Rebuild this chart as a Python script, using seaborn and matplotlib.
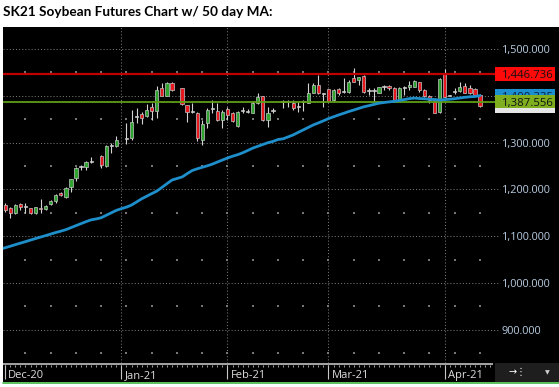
import numpy as np
import pandas as pd
import matplotlib
matplotlib.use("Agg")
import matplotlib.pyplot as plt
import seaborn as sns
from matplotlib.patches import Rectangle
from matplotlib.lines import Line2D

# ---------------- data ----------------
title = "SK21 Soybean Futures Chart w/ 50 day MA:"
start_date = "2020-12-01"
end_date = "2021-04-12"
nan = float("nan")

opens = [1166.6, 1159.5, 1148.8, 1168.1, 1163.5, 1159.5, 1148.8, 1161.0, 1157.4, 1168.1,
         1175.9, 1192.3, 1184.5, 1204.4, 1225.1, 1248.6, 1247.1, 1259.0, nan, 1272.0,
         1250.7, 1294.5, 1293.4, nan, 1308.5, 1309.1, 1356.0, 1361.1, 1356.8, 1375.4,
         1367.5, 1417.4, 1400.3, 1428.1, nan, 1415.9, 1380.3, 1367.0, 1364.0, 1305.5,
         1342.6, 1372.0, 1368.2, 1348.3, 1371.1, 1364.0, 1336.2, 1368.0, 1366.5, 1364.0,
         1385.3, 1399.6, 1348.3, 1368.0, nan, 1387.0, 1388.0, 1383.9, 1378.5, 1387.0,
         1385.3, 1406.7, 1423.1, 1406.0, 1413.8, 1391.0, 1413.8, 1408.5, 1408.8, 1438.7,
         1433.8, 1442.3, 1411.5, 1412.0, 1406.7, 1419.0, 1421.7, 1416.0, 1391.0, 1418.5,
         1418.0, 1419.5, 1428.8, 1412.4, 1399.6, 1392.5, 1364.7, 1445.9, 1400.0, 1408.5,
         1411.0, 1421.0, 1416.0, 1413.8, 1401.7]
highs = [1170.2, 1163.0, 1169.0, 1171.7, 1170.0, 1161.0, 1163.0, 1179.5, 1167.0, 1177.0,
         1190.0, 1195.0, 1206.0, 1223.0, 1247.0, 1252.0, 1261.0, 1268.5, nan, 1273.5,
         1295.0, 1298.4, 1314.0, nan, 1342.6, 1369.6, 1373.2, 1366.0, 1382.5, 1383.9,
         1420.9, 1428.1, 1430.0, 1430.0, nan, 1417.0, 1381.0, 1383.9, 1365.0, 1348.3,
         1373.0, 1391.0, 1383.9, 1369.6, 1376.8, 1366.0, 1366.5, 1375.4, 1371.0, 1389.6,
         1405.3, 1400.0, 1375.4, 1373.2, nan, 1391.0, 1391.0, 1391.0, 1387.5, 1391.0,
         1426.6, 1426.6, 1444.4, 1406.5, 1414.0, 1413.8, 1416.0, 1437.3, 1433.8, 1458.7,
         1440.9, 1444.4, 1416.0, 1416.0, 1419.5, 1423.1, 1423.0, 1418.0, 1418.0, 1421.0,
         1432.3, 1433.8, 1430.0, 1413.8, 1401.7, 1394.6, 1437.3, 1456.5, 1401.0, 1416.0,
         1430.2, 1428.0, 1423.0, 1416.0, 1403.8]
lows = [1152.4, 1138.0, 1147.0, 1156.0, 1149.0, 1148.0, 1148.0, 1148.8, 1155.0, 1166.0,
        1172.0, 1186.0, 1182.0, 1195.0, 1218.0, 1241.0, 1241.0, 1255.7, nan, 1245.0,
        1248.0, 1277.0, 1291.0, nan, 1296.3, 1306.0, 1341.2, 1339.0, 1354.0, 1348.3,
        1351.8, 1399.0, 1399.0, 1410.0, nan, 1380.0, 1344.7, 1362.5, 1303.4, 1294.9,
        1330.5, 1362.5, 1346.9, 1332.0, 1348.3, 1344.7, 1334.0, 1362.5, 1362.5, 1362.5,
        1382.5, 1346.9, 1334.0, 1362.5, nan, 1373.2, 1376.8, 1369.6, 1366.0, 1368.2,
        1383.9, 1405.3, 1403.8, 1375.4, 1387.5, 1388.9, 1401.7, 1405.3, 1405.3, 1430.0,
        1423.1, 1405.3, 1401.7, 1389.6, 1405.3, 1412.4, 1412.4, 1387.5, 1389.6, 1401.7,
        1412.4, 1418.0, 1408.8, 1398.0, 1383.9, 1362.5, 1362.5, 1397.0, 1399.0, 1403.8,
        1408.8, 1405.3, 1403.8, 1399.6, 1376.8]
closes = [1156.0, 1148.8, 1166.6, 1163.1, 1163.0, 1150.2, 1161.7, 1157.4, 1164.5, 1175.2,
          1188.0, 1188.0, 1203.7, 1221.5, 1245.0, 1249.0, 1257.8, 1259.5, nan, 1252.1,
          1293.4, 1295.0, 1305.5, nan, 1309.0, 1344.7, 1357.0, 1351.8, 1369.6, 1367.5,
          1412.4, 1400.3, 1426.6, 1412.4, nan, 1382.5, 1366.1, 1366.0, 1309.1, 1339.7,
          1369.6, 1373.5, 1348.3, 1366.1, 1359.0, 1346.9, 1366.1, 1368.5, 1366.0, 1385.3,
          1398.1, 1348.3, 1364.0, 1368.5, nan, 1388.0, 1387.0, 1373.2, 1378.0, 1388.0,
          1406.7, 1423.1, 1405.3, 1405.0, 1388.9, 1412.4, 1405.3, 1409.0, 1430.2, 1430.2,
          1439.5, 1407.4, 1411.0, 1412.5, 1418.1, 1419.5, 1416.0, 1389.6, 1416.0, 1418.0,
          1423.0, 1431.6, 1412.4, 1399.6, 1391.0, 1364.0, 1435.2, 1398.1, 1400.5, 1409.0,
          1419.5, 1406.7, 1405.3, 1401.7, 1378.2]

ma_start = "2020-11-30"
ma_values = [1072.2, 1075.4, 1078.6, 1082.0, 1085.2, 1088.4, 1091.8, 1095.0, 1098.2, 1101.4,
             1104.6, 1107.9, 1110.8, 1114.0, 1118.3, 1122.6, 1126.9, 1131.1, 1135.0, 1136.9,
             1139.5, 1144.8, 1150.0, 1155.3, 1158.9, 1162.1, 1166.6, 1173.2, 1179.9, 1185.4,
             1191.0, 1196.3, 1204.2, 1212.1, 1220.0, 1223.3, 1226.5, 1233.5, 1240.3, 1244.0,
             1247.2, 1250.4, 1254.0, 1258.5, 1262.8, 1267.1, 1270.9, 1274.1, 1278.2, 1283.1,
             1288.2, 1292.1, 1295.9, 1299.8, 1302.5, 1306.6, 1308.1, 1312.2, 1316.4, 1321.8,
             1327.1, 1332.5, 1337.8, 1342.1, 1346.6, 1351.3, 1355.1, 1359.0, 1362.6, 1366.4,
             1369.6, 1373.1, 1376.5, 1379.0, 1381.6, 1384.2, 1385.7, 1387.0, 1388.2, 1390.0,
             1391.9, 1394.0, 1395.1, 1394.2, 1393.6, 1392.7, 1391.9, 1391.0, 1391.9, 1392.7,
             1393.8, 1395.3, 1396.8, 1397.9, 1398.5, 1400.3]

price_ticks = [900, 1000, 1100, 1200, 1300, 1400, 1500]
minor_levels = [850, 950, 1050, 1150, 1250, 1350, 1450]
month_starts = ["2020-12-01", "2021-01-01", "2021-02-01", "2021-03-01", "2021-04-01"]
month_labels = ["Dec-20", "Jan-21", "Feb-21", "Mar-21", "Apr-21"]
resistance = 1446.736
support = 1387.556
ma_last = 1400.335
last_price = 1378.2

# ---------------- frames ----------------
d0 = np.datetime64(start_date)
dates = pd.bdate_range(start_date, end_date)
df = pd.DataFrame({"date": dates, "open": opens, "high": highs, "low": lows, "close": closes})
df["x"] = np.busday_count(d0, dates.values.astype("datetime64[D]"))
ma_dates = pd.bdate_range(ma_start, end_date)
ma_df = pd.DataFrame({"x": np.busday_count(d0, ma_dates.values.astype("datetime64[D]")),
                      "ma": ma_values})
month_x = np.busday_count(d0, np.array(month_starts, dtype="datetime64[D]"))
monday_x = df.loc[df["date"].dt.dayofweek == 0, "x"].values

# ---------------- style ----------------
sns.set_theme(style="dark")
plt.rcParams["font.family"] = ["Open Sans", "DejaVu Sans"]

W, H = 559, 387
X0, DX = 5.3, 5.05              # pixel of first day, pixels per weekday
def px2x(p):
    return (p - X0) / DX
PPU = 0.468                      # pixels per price unit
def py2v(py):
    return 1500 + (49 - py) / PPU

fig = plt.figure(figsize=(W / 100, H / 100), dpi=100, facecolor="white")
ax = fig.add_axes([3 / W, (H - 363) / H, (W - 3) / W, (363 - 27) / H])
ax.set_facecolor("black")
for s in ax.spines.values():
    s.set_visible(False)
xl, xr = px2x(3), px2x(W)
ax.set_xlim(xl, xr)
ax.set_ylim(py2v(363), py2v(27))
ax.grid(False)

# grid
gcol = "#767676"
ax.hlines(price_ticks, xl, px2x(500), colors=gcol, linestyles=(0, (1, 2)), lw=0.75, zorder=1)
ax.vlines(month_x[1:], py2v(363), py2v(27), colors=gcol, linestyles=(0, (1, 2)), lw=0.75, zorder=1)
mx, my = np.meshgrid(monday_x, minor_levels)
ax.scatter(mx.ravel(), my.ravel(), s=0.7, marker="s", color=gcol, linewidths=0, zorder=1)

# candles
v = df.dropna()
ax.vlines(v["x"], v["low"], v["high"], colors="#d4d4d4", lw=0.8, zorder=3)
diff = v["close"] - v["open"]
body_h = np.maximum(diff.abs(), 2.4)
body_b = np.minimum(v["open"], v["close"]) - np.where(diff.abs() < 2.4, 1.2, 0)
cols = np.where(diff.abs() < 2.0, "#f0f0f0", np.where(diff > 0, "#2fa52f", "#e8191e"))
ax.bar(v["x"], body_h, bottom=body_b, width=0.64, color=cols,
       edgecolor="#c4c4c4", linewidth=0.5, zorder=4)

# level lines
ax.hlines(resistance, xl, px2x(495), colors="#c00000", lw=1.6, zorder=5)
ax.hlines(support, xl, px2x(495), colors="#5e9e14", lw=1.3, zorder=5)

# moving average
sns.lineplot(data=ma_df, x="x", y="ma", ax=ax, color="#1e8fcb", linewidth=2.0,
             estimator=None, legend=False, zorder=6)
ax.set_xlabel("")
ax.set_ylabel("")

# price scale labels (inside, right)
ax.set_xticks([])
ax.set_yticks(price_ticks)
ax.set_yticklabels([f"{t:,.3f}" for t in price_ticks])
ax.tick_params(axis="y", length=0, labelleft=False, labelright=True,
               pad=-(W - 502) * 0.72, labelcolor="#b9cde2", labelsize=7.8)

# right-hand value boxes
bx0, bx1 = px2x(495), px2x(555)
def vbox(val, hpx, fc, z, text=None, tcol="black", clip_top=None):
    hh = hpx / PPU
    rect = Rectangle((bx0, val - hh / 2), bx1 - bx0, hh, facecolor=fc,
                     edgecolor="none", zorder=z)
    ax.add_patch(rect)
    if text:
        tx = ax.text(px2x(502), val, text, ha="left", va="center_baseline", fontsize=8.2,
                     color=tcol, zorder=z + 0.1)
        if clip_top is not None:
            clip = Rectangle((bx0, clip_top), bx1 - bx0, val + hh / 2 - clip_top,
                             transform=ax.transData, facecolor="none", edgecolor="none")
            tx.set_clip_path(clip)
    return rect

vbox(resistance, 14, "#ff0a0a", 7, f"{resistance:,.3f}", "#111111")
vbox(ma_last, 13, "#1c8fd0", 7, f"{ma_last:,.3f}", "#0a1e3c",
     clip_top=support + 13.3 / PPU / 2)
vbox(last_price, 13.4, "#e6e6e6", 8)
vbox(support, 13.3, "#7fae1f", 9, f"{support:,.3f}", "#111111")

# ---------------- time axis band ----------------
ax2 = fig.add_axes([3 / W, (H - 382) / H, (W - 3) / W, 19 / H])
ax2.set_facecolor("black")
for s in ax2.spines.values():
    s.set_visible(False)
ax2.set_xlim(xl, xr)
ax2.set_ylim(19, 0)
ax2.set_xticks([])
ax2.set_yticks([])
ax2.grid(False)
ax2.hlines(1.2, xl, px2x(493), colors="#a0a0a0", lw=1.5)
ax2.vlines(np.arange(0, 97), 2, 3.8, colors="#a0a0a0", lw=0.7)
ax2.vlines(month_x, 2, 16, colors="#c8c8c8", lw=0.8)
for mxv, lab in zip(month_x, month_labels):
    ax2.text(mxv + 0.6, 15.2, lab, ha="left", va="baseline", fontsize=8, color="#dcdcdc")
ax2.add_patch(Rectangle((px2x(495), 0), xr - px2x(495), 19, facecolor="#1e1e1e",
                        edgecolor="none"))
ax2.text(px2x(517), 9.5, "→⋮", ha="center", va="center", fontsize=7, color="white",
         family=["DejaVu Sans"])
ax2.text(px2x(547), 9.5, "▼", ha="center", va="center", fontsize=4.5, color="#d0d0d0",
         family=["DejaVu Sans"])

# bottom green rule
fig.add_artist(Line2D([3 / W, 1], [1 - 382.7 / H] * 2, color="#3fb43f", lw=1.2))

# title
t = fig.text(3 / W, 1 - 16 / H, title, ha="left", va="baseline", fontweight="bold",
             fontsize=11, color="black", family=["Lato", "DejaVu Sans"])
fig.canvas.draw()
wpx = t.get_window_extent().width
t.set_fontsize(11 * 268 / wpx)

fig.savefig("out.png", dpi=100, facecolor="white")
